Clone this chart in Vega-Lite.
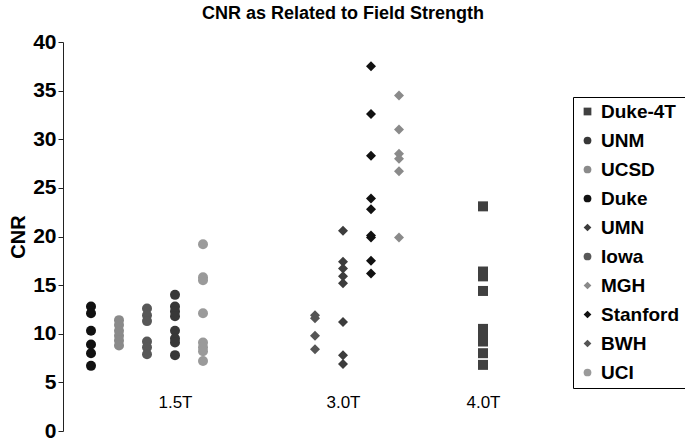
{
  "$schema": "https://vega.github.io/schema/vega-lite/v6.json",
  "autosize": {"type": "none"},
  "width": 448,
  "height": 389,
  "padding": {"left": 63, "top": 42, "right": 174, "bottom": 11},
  "background": "white",
  "config": {
    "view": {"stroke": null},
    "font": "Liberation Sans"
  },
  "title": {
    "text": "CNR as Related to Field Strength",
    "font": "Liberation Sans",
    "fontSize": 18,
    "fontWeight": "bold",
    "color": "#000000",
    "anchor": "middle",
    "frame": "group",
    "dx": 56,
    "offset": 8
  },
  "data": {
    "values": [
      {"site": "Duke", "strength": "1.5T", "cnr": 12.8},
      {"site": "Duke", "strength": "1.5T", "cnr": 12.1},
      {"site": "Duke", "strength": "1.5T", "cnr": 10.3},
      {"site": "Duke", "strength": "1.5T", "cnr": 8.9},
      {"site": "Duke", "strength": "1.5T", "cnr": 8.0},
      {"site": "Duke", "strength": "1.5T", "cnr": 6.7},
      {"site": "UCSD", "strength": "1.5T", "cnr": 11.4},
      {"site": "UCSD", "strength": "1.5T", "cnr": 10.9},
      {"site": "UCSD", "strength": "1.5T", "cnr": 10.3},
      {"site": "UCSD", "strength": "1.5T", "cnr": 9.8},
      {"site": "UCSD", "strength": "1.5T", "cnr": 9.3},
      {"site": "UCSD", "strength": "1.5T", "cnr": 8.8},
      {"site": "Iowa", "strength": "1.5T", "cnr": 12.6},
      {"site": "Iowa", "strength": "1.5T", "cnr": 11.9},
      {"site": "Iowa", "strength": "1.5T", "cnr": 11.3},
      {"site": "Iowa", "strength": "1.5T", "cnr": 9.2},
      {"site": "Iowa", "strength": "1.5T", "cnr": 8.6},
      {"site": "Iowa", "strength": "1.5T", "cnr": 7.9},
      {"site": "UNM", "strength": "1.5T", "cnr": 14.0},
      {"site": "UNM", "strength": "1.5T", "cnr": 12.8},
      {"site": "UNM", "strength": "1.5T", "cnr": 12.3},
      {"site": "UNM", "strength": "1.5T", "cnr": 11.8},
      {"site": "UNM", "strength": "1.5T", "cnr": 10.3},
      {"site": "UNM", "strength": "1.5T", "cnr": 9.5},
      {"site": "UNM", "strength": "1.5T", "cnr": 9.1},
      {"site": "UNM", "strength": "1.5T", "cnr": 7.8},
      {"site": "UCI", "strength": "1.5T", "cnr": 19.2},
      {"site": "UCI", "strength": "1.5T", "cnr": 15.8},
      {"site": "UCI", "strength": "1.5T", "cnr": 15.5},
      {"site": "UCI", "strength": "1.5T", "cnr": 12.1},
      {"site": "UCI", "strength": "1.5T", "cnr": 9.1},
      {"site": "UCI", "strength": "1.5T", "cnr": 8.6},
      {"site": "UCI", "strength": "1.5T", "cnr": 8.2},
      {"site": "UCI", "strength": "1.5T", "cnr": 7.2},
      {"site": "BWH", "strength": "3.0T", "cnr": 11.9},
      {"site": "BWH", "strength": "3.0T", "cnr": 11.6},
      {"site": "BWH", "strength": "3.0T", "cnr": 9.8},
      {"site": "BWH", "strength": "3.0T", "cnr": 8.4},
      {"site": "UMN", "strength": "3.0T", "cnr": 20.6},
      {"site": "UMN", "strength": "3.0T", "cnr": 17.4},
      {"site": "UMN", "strength": "3.0T", "cnr": 16.7},
      {"site": "UMN", "strength": "3.0T", "cnr": 15.9},
      {"site": "UMN", "strength": "3.0T", "cnr": 15.2},
      {"site": "UMN", "strength": "3.0T", "cnr": 11.2},
      {"site": "UMN", "strength": "3.0T", "cnr": 7.8},
      {"site": "UMN", "strength": "3.0T", "cnr": 6.9},
      {"site": "Stanford", "strength": "3.0T", "cnr": 37.5},
      {"site": "Stanford", "strength": "3.0T", "cnr": 32.6},
      {"site": "Stanford", "strength": "3.0T", "cnr": 28.3},
      {"site": "Stanford", "strength": "3.0T", "cnr": 23.9},
      {"site": "Stanford", "strength": "3.0T", "cnr": 22.8},
      {"site": "Stanford", "strength": "3.0T", "cnr": 20.1},
      {"site": "Stanford", "strength": "3.0T", "cnr": 19.9},
      {"site": "Stanford", "strength": "3.0T", "cnr": 17.5},
      {"site": "Stanford", "strength": "3.0T", "cnr": 16.2},
      {"site": "MGH", "strength": "3.0T", "cnr": 34.5},
      {"site": "MGH", "strength": "3.0T", "cnr": 31.0},
      {"site": "MGH", "strength": "3.0T", "cnr": 28.5},
      {"site": "MGH", "strength": "3.0T", "cnr": 28.0},
      {"site": "MGH", "strength": "3.0T", "cnr": 26.7},
      {"site": "MGH", "strength": "3.0T", "cnr": 19.9},
      {"site": "Duke-4T", "strength": "4.0T", "cnr": 23.1},
      {"site": "Duke-4T", "strength": "4.0T", "cnr": 16.4},
      {"site": "Duke-4T", "strength": "4.0T", "cnr": 15.9},
      {"site": "Duke-4T", "strength": "4.0T", "cnr": 14.4},
      {"site": "Duke-4T", "strength": "4.0T", "cnr": 10.5},
      {"site": "Duke-4T", "strength": "4.0T", "cnr": 9.7},
      {"site": "Duke-4T", "strength": "4.0T", "cnr": 9.2},
      {"site": "Duke-4T", "strength": "4.0T", "cnr": 8.0},
      {"site": "Duke-4T", "strength": "4.0T", "cnr": 6.8}
    ]
  },
  "mark": {"type": "point", "filled": true, "opacity": 1, "size": 100},
  "encoding": {
    "x": {
      "field": "site",
      "type": "nominal",
      "scale": {
        "type": "point",
        "padding": 1,
        "domain": ["Duke", "UCSD", "Iowa", "UNM", "UCI", "gap1", "gap2", "gap3", "BWH", "UMN", "Stanford", "MGH", "gap4", "gap5", "Duke-4T"]
      },
      "axis": {
        "title": null,
        "values": ["UNM", "UMN", "Duke-4T"],
        "labelExpr": "datum.value == 'UNM' ? '1.5T' : datum.value == 'UMN' ? '3.0T' : '4.0T'",
        "labelAngle": 0,
        "labelFont": "Liberation Sans",
        "labelFontSize": 17,
        "labelColor": "#000000",
        "domain": false,
        "ticks": false,
        "grid": false,
        "offset": -39,
        "labelPadding": 2
      }
    },
    "y": {
      "field": "cnr",
      "type": "quantitative",
      "scale": {"domain": [0, 40], "nice": false, "zero": true},
      "axis": {
        "title": "CNR",
        "titleFont": "Liberation Sans",
        "titleFontSize": 20,
        "titleFontWeight": "bold",
        "titleColor": "#000000",
        "titlePadding": 4,
        "values": [0, 5, 10, 15, 20, 25, 30, 35, 40],
        "labelFont": "Liberation Sans",
        "labelFontSize": 21,
        "labelFontWeight": "bold",
        "labelColor": "#000000",
        "labelPadding": 2,
        "tickSize": 5,
        "tickColor": "#222222",
        "domainColor": "#222222",
        "grid": false
      }
    },
    "color": {
      "field": "site",
      "type": "nominal",
      "scale": {
        "domain": ["Duke-4T", "UNM", "UCSD", "Duke", "UMN", "Iowa", "MGH", "Stanford", "BWH", "UCI"],
        "range": ["#404040", "#383838", "#8a8a8a", "#111111", "#3c3c3c", "#585858", "#8a8a8a", "#111111", "#555555", "#9a9a9a"]
      },
      "legend": {
        "title": null,
        "orient": "none",
        "legendX": 510,
        "legendY": 55,
        "strokeColor": "#000000",
        "padding": 5,
        "rowPadding": 9,
        "symbolSize": 60,
        "labelFont": "Liberation Sans",
        "labelFontSize": 19,
        "labelFontWeight": "bold",
        "labelColor": "#000000",
        "labelOffset": 4
      }
    },
    "shape": {
      "field": "site",
      "type": "nominal",
      "scale": {
        "domain": ["Duke-4T", "UNM", "UCSD", "Duke", "UMN", "Iowa", "MGH", "Stanford", "BWH", "UCI"],
        "range": ["square", "circle", "circle", "circle", "diamond", "circle", "diamond", "diamond", "diamond", "circle"]
      }
    }
  }
}
